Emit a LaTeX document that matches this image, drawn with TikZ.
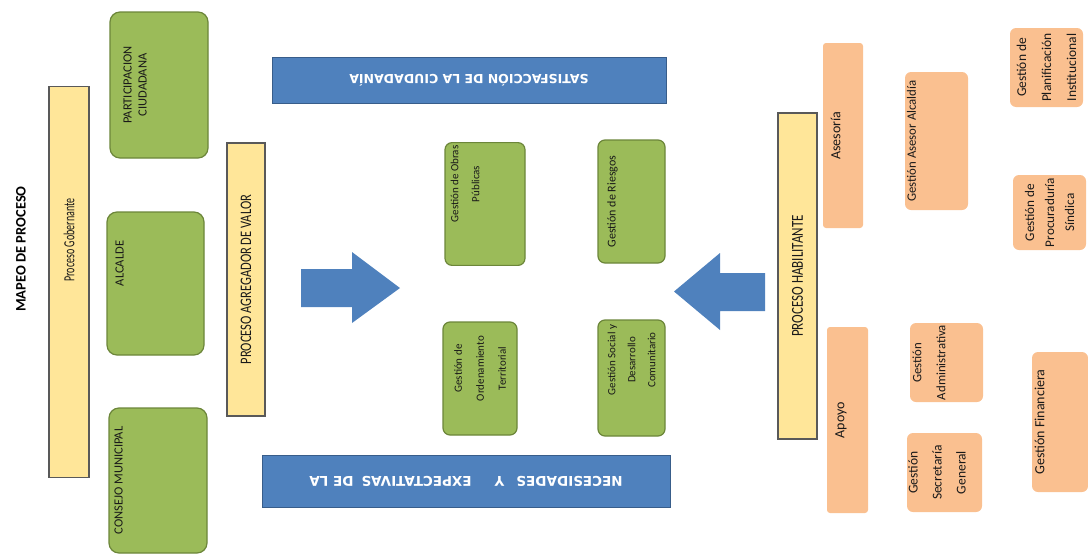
\documentclass[tikz,border=0pt]{standalone}
\usepackage{fontspec}
\setmainfont{Carlito}
\newfontfamily\narrowfont{Carlito}[FakeStretch=0.78]
\newfontfamily\slimfont{Carlito}[FakeStretch=0.65]
\newfontfamily\bandfont{DejaVu Sans}
\definecolor{verde}{RGB}{155,187,89}
\definecolor{verdeDark}{RGB}{108,134,58}
\definecolor{amarillo}{RGB}{255,230,153}
\definecolor{azul}{RGB}{79,129,189}
\definecolor{azulDark}{RGB}{56,93,138}
\definecolor{naranja}{RGB}{250,192,144}

\begin{document}
\begin{tikzpicture}[
    x=1pt, y=-1pt,
    box/.style={rotate=90, align=center, inner sep=3pt, text=black!90},
    procbar/.style={box, draw=black!65, line width=1.2pt, fill=amarillo,
                    font=\narrowfont\fontsize{16}{18}\selectfont},
    gobbox/.style={box, draw=verdeDark, line width=1.2pt, fill=verde,
                   rounded corners=10pt, font=\fontsize{12.5}{15}\selectfont},
    corebox/.style={box, draw=verdeDark, line width=1.2pt, fill=verde,
                    rounded corners=7pt, font=\fontsize{11}{21}\selectfont},
    habbox/.style={box, fill=naranja, rounded corners=6pt, inner sep=1pt,
                   font=\fontsize{13.5}{25}\selectfont},
    banner/.style={draw=azulDark, line width=1pt, fill=azul, rotate=180,
                   text=white, font=\bandfont\bfseries\fontsize{12.5}{15}\selectfont},
    blockarr/.style={fill=azul},
    push/.style={text depth=#1},
]
\useasboundingbox (0,0) rectangle (1088,555);

% --- TITLE ---
\node[rotate=90, font=\bfseries\fontsize{14.5}{16}\selectfont]
      (titulo) at (21,249) {MAPEO DE PROCESO};

% --- PROCESO GOBERNANTE ---
\node[procbar, minimum width=391pt, minimum height=40pt,
      font=\slimfont\fontsize{15.4}{17}\selectfont]
      (gob) at (69,282) {\hspace*{84pt}Proceso Gobernante};

\node[gobbox, minimum width=146pt, minimum height=98pt, push=48pt]
      (part) at (159,85) {PARTICIPACION\\CIUDADANA};

\node[gobbox, minimum width=143pt, minimum height=97pt, push=72pt]
      (alcalde) at (155.5,283.5) {\hspace*{40pt}ALCALDE};

\node[gobbox, minimum width=145pt, minimum height=98pt, push=79pt]
      (consejo) at (158,480.5) {CONSEJO MUNICIPAL};

% --- PROCESO AGREGADOR DE VALOR ---
\node[procbar, minimum width=273pt, minimum height=38pt]
      (agreg) at (246,279.5) {PROCESO AGREGADOR DE VALOR};

\node[banner, minimum width=394pt, minimum height=46pt]
      (satis) at (469,80) {SATISFACCIÓN DE LA CIUDADANÍA};

\node[banner, minimum width=408pt, minimum height=52pt,
      font=\bandfont\bfseries\fontsize{13.5}{15}\selectfont]
      (necesid) at (466,481)
      {NECESIDADES\hspace{12pt}Y\hspace{23pt}EXPECTATIVAS\hspace{8pt}DE LA};

\node[corebox, minimum width=118pt, minimum height=80pt, push=40pt]
      (obras) at (485,204)
      {\hspace*{40pt}Gestión de Obras\\\hspace*{40pt}Públicas};

\node[corebox, minimum width=123pt, minimum height=67pt, push=40pt,
      font=\fontsize{12}{21}\selectfont]
      (riesgos) at (631.5,201.5) {Gestión de Riesgos};

\node[corebox, minimum width=113pt, minimum height=74pt,
      font=\fontsize{11}{22}\selectfont]
      (orden) at (480,378.5)
      {\hspace*{20pt}Gestión de\\\hspace*{20pt}Ordenamiento\\\hspace*{20pt}Territorial};

\node[corebox, minimum width=116pt, minimum height=67pt,
      font=\fontsize{11}{20}\selectfont]
      (social) at (631.5,378)
      {\hspace*{36pt}Gestión Social y\\\hspace*{36pt}Desarrollo\\\hspace*{36pt}Comunitario};

% --- BLOCK ARROWS ---
\fill[blockarr] (301,269) -- (352,269) -- (352,252) -- (400,288)
    -- (352,323) -- (352,307) -- (301,307) -- cycle;
\fill[blockarr] (765,273) -- (720,273) -- (720,253) -- (674,291.5)
    -- (720,330) -- (720,311) -- (765,311) -- cycle;

% --- PROCESO HABILITANTE ---
\node[procbar, minimum width=326pt, minimum height=39pt,
      font=\narrowfont\fontsize{16.7}{18}\selectfont]
      (habil) at (797.5,276) {PROCESO HABILITANTE};

\node[habbox, minimum width=185pt, minimum height=40pt, push=15pt,
      font=\fontsize{14}{16}\selectfont, rounded corners=3pt]
      (asesoria) at (843,135.5) {Asesoría};

\node[habbox, minimum width=138pt, minimum height=63pt, push=50pt,
      font=\fontsize{12.8}{16}\selectfont]
      (asesor) at (936.5,141) {Gestión Asesor Alcaldía};

\node[habbox, minimum width=79pt, minimum height=73pt]
      (planif) at (1046.5,67.5) {Gestión de\\Planificación\\Institucional};

\node[habbox, minimum width=75pt, minimum height=73pt,
      font=\fontsize{13.2}{20}\selectfont]
      (procur) at (1049.5,212.5) {Gestión de\\Procuraduría\\Síndica};

\node[habbox, minimum width=186pt, minimum height=41pt, push=15pt,
      font=\fontsize{14}{16}\selectfont, rounded corners=3pt]
      (apoyo) at (847.5,420) {Apoyo};

\node[habbox, minimum width=79pt, minimum height=73pt, push=35pt,
      font=\fontsize{12.8}{24}\selectfont]
      (admin) at (946.5,362.5) {Gestión\\Administrativa};

\node[habbox, minimum width=79pt, minimum height=75pt, push=15pt,
      font=\fontsize{13.5}{24}\selectfont]
      (secret) at (944.5,472.5) {Gestión\\Secretaría\\General};

\node[habbox, minimum width=140pt, minimum height=56pt, push=41pt,
      font=\fontsize{14}{16}\selectfont]
      (financ) at (1060,422) {Gestión Financiera};

\end{tikzpicture}
\end{document}
